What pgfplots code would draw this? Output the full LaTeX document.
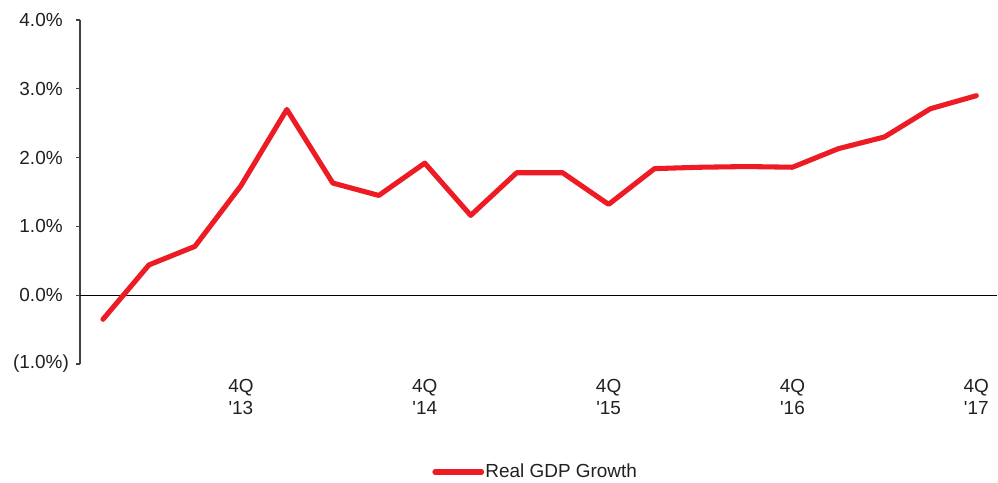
\documentclass[border=0pt]{standalone}
\usepackage{fontspec}
\setmainfont{Liberation Sans}
\usepackage{pgfplots}
\pgfplotsset{compat=1.18}
\usetikzlibrary{calc}
\definecolor{gdpred}{HTML}{ED1C24}
\definecolor{txt}{HTML}{231F20}
\begin{document}
\begin{tikzpicture}
\begin{axis}[
    scale only axis,
    width=687.75pt,
    height=258pt,
    xmin=-0.5, xmax=19.45,
    ymin=-1, ymax=4,
    axis x line=none,
    axis y line*=left,
    y axis line style={draw=txt!85, line width=0.8pt},
    ytick={-1,0,1,2,3,4},
    yticklabels={(1.0\%)\kern-4.7pt,0.0\%,1.0\%,2.0\%,3.0\%,4.0\%},
    ytick style={draw=txt!85, line width=0.8pt},
    tick align=outside,
    major tick length=3pt,
    yticklabel style={font=\fontsize{14.2}{17}\selectfont, text=txt, xshift=-6.5pt},
    legend style={draw=none, fill=none, at={(axis description cs:0.384,-0.314)}, anchor=west,
        font=\fontsize{14.2}{17}\selectfont, text=txt, inner sep=0pt,
        nodes={inner sep=1pt}},
    legend image code/.code={\draw[#1] (0pt,0pt) -- (35pt,0pt);},
    legend cell align=left,
    clip=false,
]
\coordinate (bl) at (rel axis cs:0,0);
\draw[black, line width=0.7pt] (axis cs:-0.5,0) -- (axis cs:19.45,0);
\addplot[gdpred, line width=3.8pt, line join=round, line cap=round] coordinates {
    (0,-0.35) (1,0.44) (2,0.71) (3,1.59) (4,2.70)
    (5,1.63) (6,1.45) (7,1.92) (8,1.16) (9,1.78)
    (10,1.78) (11,1.32) (12,1.84) (13,1.86) (14,1.87)
    (15,1.86) (16,2.13) (17,2.30) (18,2.71) (19,2.90)
};
\addlegendentry{Real GDP Growth}
\foreach \i/\yr in {3/13,7/14,11/15,15/16,19/17} {
    \edef\tmp{\noexpand\node[font=\noexpand\fontsize{14.2}{16.5}\noexpand\selectfont, text=txt, align=center, anchor=north, inner sep=0pt]
        at (axis cs:\i,-1) [yshift=-11pt] {4Q\noexpand\\\noexpand\textquotesingle\yr};}
    \tmp
}
\end{axis}
\pgfresetboundingbox
\path[use as bounding box] ($(bl)+(-60pt,-88.5pt)$) rectangle ($(bl)+(688.5pt,273pt)$);
\end{tikzpicture}
\end{document}
